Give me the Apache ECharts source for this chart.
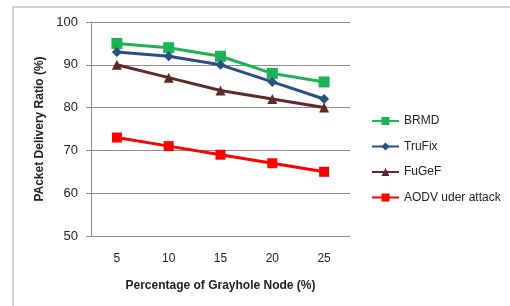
<!DOCTYPE html>
<html>
<head>
<meta charset="utf-8">
<script src="https://cdn.jsdelivr.net/npm/echarts@6/dist/echarts.min.js"></script>
<style>
  html, body { margin: 0; padding: 0; background: #fff; }
  #chart { width: 510px; height: 306px; }
</style>
</head>
<body>
<div id="chart"></div>
<script>
const categories = ['5', '10', '15', '20', '25']
const brmd = [95, 94, 92, 88, 86]
const truFix = [93, 92, 90, 86, 82]
const fuGeF = [90, 87, 84, 82, 80]
const aodv = [73, 71, 69, 67, 65]

const font = 'Liberation Sans, Arial, sans-serif'

const makeSeries = (name, data, color, symbol, size) => ({
  name,
  type: 'line',
  data,
  symbol,
  symbolSize: size,
  lineStyle: { width: 3, color },
  itemStyle: { color },
})

const chart = echarts.init(document.getElementById('chart'))
chart.setOption({
  animation: false,
  textStyle: { fontFamily: font },
  graphic: [
    {
      type: 'rect',
      shape: { x: 13, y: 7, width: 520, height: 320 },
      style: { fill: 'none', stroke: '#a6a6a6', lineWidth: 1 },
      silent: true,
    },
  ],
  grid: { left: 91, right: 160, top: 22, bottom: 70 },
  legend: {
    orient: 'vertical',
    left: 371,
    top: 115,
    padding: 0,
    itemGap: 13.5,
    itemWidth: 27,
    itemHeight: 10,
    textStyle: { fontSize: 12, color: '#222', fontFamily: font },
    data: ['BRMD', 'TruFix', 'FuGeF', 'AODV uder attack'],
  },
  xAxis: {
    type: 'category',
    data: categories,
    name: 'Percentage of Grayhole Node (%)',
    nameLocation: 'middle',
    nameGap: 44,
    nameTextStyle: { fontSize: 12, fontWeight: 'bold', color: '#222' },
    axisLine: { show: false },
    axisTick: { show: false },
    axisLabel: { fontSize: 12, color: '#222', margin: 17 },
  },
  yAxis: {
    type: 'value',
    min: 50,
    max: 100,
    interval: 10,
    name: 'PAcket Delivery Ratio (%)',
    nameLocation: 'middle',
    nameGap: 43,
    nameTextStyle: { fontSize: 12, fontWeight: 'bold', color: '#222' },
    axisLine: { show: true, lineStyle: { color: '#8c8c8c' } },
    axisTick: { show: true, length: 5, lineStyle: { color: '#8c8c8c' } },
    axisLabel: { fontSize: 13, color: '#222', margin: 13 },
    splitLine: { lineStyle: { color: '#8c8c8c' } },
  },
  series: [
    makeSeries('BRMD', brmd, '#1db254', 'rect', 11),
    makeSeries('TruFix', truFix, '#2a4f82', 'diamond', 10),
    makeSeries('FuGeF', fuGeF, '#5e2b27', 'triangle', 10),
    makeSeries('AODV uder attack', aodv, '#ff0000', 'rect', 10),
  ],
})
</script>
</body>
</html>
